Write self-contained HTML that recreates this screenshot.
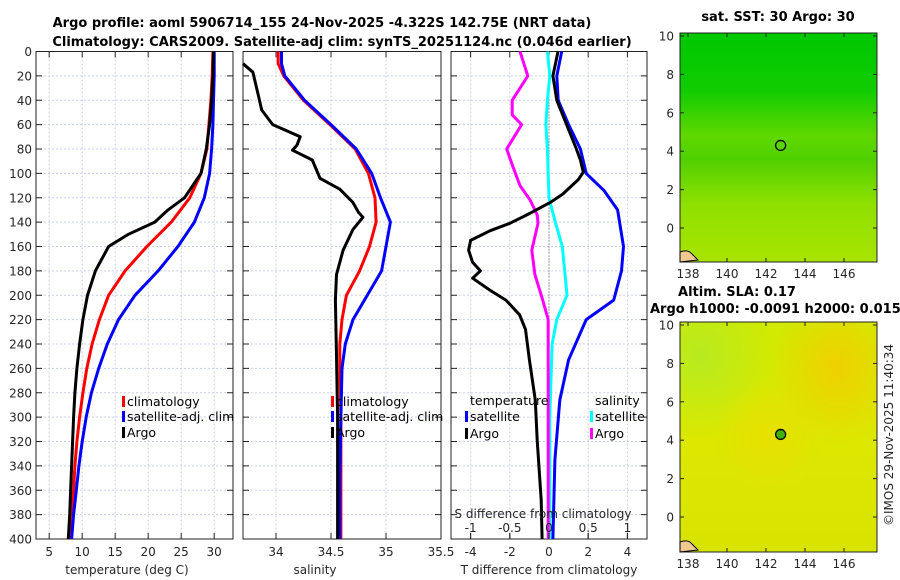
<!DOCTYPE html>
<html><head><meta charset="utf-8"><style>
body{margin:0;background:#fff;}
svg{display:block;font-family:"DejaVu Sans","Liberation Sans",sans-serif;}
.tk{font-size:12px;fill:#262626;}
.tt{font-size:13px;font-weight:bold;fill:#000;}
.lg{font-size:12.5px;fill:#000;}
</style></head><body>
<svg id="fig" width="900" height="580">
<text class="tt" x="322" y="27" text-anchor="middle">Argo profile: aoml 5906714_155 24-Nov-2025 -4.322S 142.75E (NRT data)</text>
<text class="tt" x="342" y="46" text-anchor="middle">Climatology: CARS2009. Satellite-adj clim: synTS_20251124.nc (0.046d earlier)</text>
<g id="maps"></g>
<g id="plots"></g>
<text class="tk" transform="translate(893,435) rotate(-90)" text-anchor="middle">©IMOS 29-Nov-2025 11:40:34</text>
</svg>
<script>
// ---- data ----
const depths = [0,20,40,60,80,100,120,140,160,180,200,220,240,260,280,300,320,340,360,380,400];
const tempClim = [29.8,29.7,29.5,29.2,28.9,28.0,26.3,23.5,19.8,16.5,14.0,12.6,11.5,10.7,10.1,9.6,9.2,8.9,8.7,8.5,8.3];
const tempSat  = [30.0,30.0,29.9,29.8,29.6,29.3,28.5,27.0,24.5,21.5,18.0,15.5,13.8,12.5,11.4,10.6,10.0,9.5,9.1,8.7,8.4];
const argoDepths = [0,20,40,60,80,100,120,130,140,150,160,180,200,220,240,260,280,300,340,380,400];
const tempArgo = [29.9,29.8,29.6,29.3,28.8,28.0,25.5,23.0,21.0,17.0,14.0,12.0,10.8,10.1,9.6,9.2,8.9,8.7,8.4,8.1,7.9];
const salDepths = [0,10,20,40,60,80,100,120,140,160,180,200,220,240,260,300,350,400];
const salClim = [34.02,34.02,34.07,34.25,34.49,34.72,34.84,34.90,34.91,34.85,34.76,34.64,34.60,34.58,34.58,34.59,34.59,34.59];
const salSat  = [34.05,34.05,34.08,34.26,34.50,34.73,34.87,34.95,35.04,35.00,34.96,34.83,34.70,34.63,34.60,34.59,34.58,34.58];
const salArgoDepths = [10,17,40,48,60,70,77,81,89,104,113,124,132,136,146,163,183,204,250,300,400];
const salArgo = [33.70,33.79,33.85,33.87,33.97,34.22,34.19,34.15,34.33,34.40,34.58,34.70,34.75,34.79,34.70,34.61,34.55,34.54,34.55,34.56,34.56];
const diffDepths = [0,20,40,60,80,89,99,105,117,124,133,141,147,155,163,173,180,186,196,204,216,228,253,286,319,368,400];
const dTArgo = [0.46,0.2,0.4,0.9,1.4,1.6,1.75,1.5,0.7,0.05,-1,-2,-3,-4,-4.1,-3.9,-3.5,-3.9,-3,-2.2,-1.5,-1.2,-1,-0.7,-0.6,-0.4,-0.35];
const dTDepths = [0,20,40,60,80,100,114,130,160,180,204,220,253,286,335,400];
const dTSat = [0.65,0.4,0.47,1.0,1.6,1.9,2.8,3.5,3.8,3.7,3.3,1.9,1.0,0.55,0.3,0.2];
const dSDepths = [0,20,40,60,80,100,120,140,160,180,200,220,240,300,400];
const dSSat = [-0.02,0.01,-0.02,-0.04,-0.02,-0.01,0,0.08,0.17,0.2,0.23,0.1,0.04,0.01,0.01];
const dSArgoDepths = [0,20,40,52,60,80,93,110,122,134,141,163,183,204,220,300,400];
const dSArgo = [-0.37,-0.27,-0.47,-0.47,-0.35,-0.54,-0.47,-0.37,-0.24,-0.15,-0.14,-0.22,-0.18,-0.08,-0.01,-0.01,-0.01];
const depthTicks = [0,20,40,60,80,100,120,140,160,180,200,220,240,260,280,300,320,340,360,380,400];
const tTicks = [5,10,15,20,25,30];
const sTicks = [34,34.5,35,35.5];
const dTTicks = [-4,-2,0,2,4];
const dSTicks = [-1,-0.5,0,0.5,1];
const lonTicks = [138,140,142,144,146];
const latTicks = [0,2,4,6,8,10];

const NS='http://www.w3.org/2000/svg';
const plots=document.getElementById('plots');
function el(tag,attrs,parent,text){const e=document.createElementNS(NS,tag);for(const k in attrs)e.setAttribute(k,attrs[k]);if(text!==undefined)e.textContent=text;(parent||plots).appendChild(e);return e;}
const Y0=51.5,Y1=539;
const yD=d=>Y0+d*(Y1-Y0)/400;

function panel(name,x0,x1,xmin,xmax,ticks,fmt,showY){
  const g=el('g',{});
  
  
  const xs=v=>x0+(v-xmin)*(x1-x0)/(xmax-xmin);
  depthTicks.forEach(d=>{const y=yD(d);
    el('line',{x1:x0,x2:x1,y1:y,y2:y,stroke:'#c8d0e8','stroke-dasharray':'2,2','stroke-width':1},g);
    el('line',{x1:x0,x2:x0+6,y1:y,y2:y,stroke:'#222'},g);
    el('line',{x1:x1-6,x2:x1,y1:y,y2:y,stroke:'#222'},g);
    if(showY){const t=el('text',{x:x0-4,y:y+4.5,'text-anchor':'end',class:'tk'},g,String(d));}
  });
  ticks.forEach(v=>{const x=xs(v);
    el('line',{x1:x,x2:x,y1:Y0,y2:Y1,stroke:'#c8d0e8','stroke-dasharray':'2,2'},g);
    el('line',{x1:x,x2:x,y1:Y1,y2:Y1-6,stroke:'#222'},g);
    el('line',{x1:x,x2:x,y1:Y0,y2:Y0+6,stroke:'#222'},g);
    const t=el('text',{x:x,y:556,'text-anchor':'middle',class:'tk'},g,fmt(v));
    
  });
  el('rect',{x:x0,y:Y0,width:x1-x0,height:Y1-Y0,fill:'none',stroke:'#222','stroke-width':1},g);
  return {g,xs};
}
function line(p,xs,ys,color,name,w,xfn){
  const pts=xs.map((v,i)=>(xfn||p.xs)(v).toFixed(1)+','+yD(ys[i]).toFixed(1)).join(' ');
  const l=el('polyline',{points:pts,fill:'none',stroke:color,'stroke-width':w||3,'stroke-linejoin':'round'},p.g);
  
  
}
function legend(g,x,y,color,label,name){
  el('rect',{x:x,y:y-10,width:3,height:11,fill:color},g);
  const t=el('text',{x:x+5,y:y,class:'lg'},g,label);
  
  
}
function xlabel(text,x,name){const t=el('text',{x:x,y:574,'text-anchor':'middle',class:'tk','font-size':'13'},plots,text);}

// Panel 1 temperature
const p1=panel('temperature-panel',36,233,3.0,32.85,tTicks,v=>String(v),true);
line(p1,tempClim,depths,'#ff0000','climatology-temp-line');
line(p1,tempSat,depths,'#0000ff','satellite-temp-line');
line(p1,tempArgo,argoDepths,'#000000','argo-temp-line');
legend(p1.g,122,406,'#ff0000','climatology','legend-climatology');
legend(p1.g,122,421,'#0000ff','satellite-adj. clim','legend-satellite');
legend(p1.g,122,437,'#000000','Argo','legend-argo');
xlabel('temperature (deg C)',127,'x-axis-title-temperature');

// Panel 2 salinity
const p2=panel('salinity-panel',243,441,33.7,35.5,sTicks,v=>String(v),false);
line(p2,salClim,salDepths,'#ff0000','climatology-sal-line');
line(p2,salSat,salDepths,'#0000ff','satellite-sal-line');
line(p2,salArgo,salArgoDepths,'#000000','argo-sal-line');
legend(p2.g,331,406,'#ff0000','climatology','legend-sal-climatology');
legend(p2.g,331,421,'#0000ff','satellite-adj. clim','legend-sal-satellite');
legend(p2.g,331,437,'#000000','Argo','legend-sal-argo');
xlabel('salinity',315,'x-axis-title-salinity');

// Panel 3 differences
const p3=panel('difference-panel',451,647,-5,5,dTTicks,v=>String(v),false);
const sx=v=>549+v*78.4;
el('line',{x1:549,x2:549,y1:Y0,y2:Y1,stroke:'#555','stroke-dasharray':'1,2'},p3.g);
line(p3,dSSat,dSDepths,'#00ffff','sat-salinity-diff-line',3,sx);
line(p3,dSArgo,dSArgoDepths,'#ff00ff','argo-salinity-diff-line',3,sx);
line(p3,dTSat,dTDepths,'#0000ff','sat-temp-diff-line');
line(p3,dTArgo,diffDepths,'#000000','argo-temp-diff-line');
dSTicks.forEach(v=>{const t=el('text',{x:sx(v),y:532,'text-anchor':'middle',class:'tk'},p3.g,String(v));
  el('line',{x1:sx(v),x2:sx(v),y1:Y1,y2:Y1-6,stroke:'#222'},p3.g);});
{const t=el('text',{x:543,y:518,'text-anchor':'middle',class:'tk','font-size':'13'},p3.g,'S difference from climatology');}
{const t=el('text',{x:470,y:405,class:'lg'},p3.g,'temperature');}
{const t=el('text',{x:595,y:405,class:'lg'},p3.g,'salinity');}
legend(p3.g,465,421,'#0000ff','satellite','legend-temp-satellite');
legend(p3.g,465,438,'#000000','Argo','legend-temp-argo');
legend(p3.g,590,421,'#00ffff','satellite','legend-sal-satellite-diff');
legend(p3.g,590,438,'#ff00ff','Argo','legend-sal-argo-diff');
xlabel('T difference from climatology',549,'x-axis-title-tdiff');

// Maps
const maps=document.getElementById('maps');
function map(name,y0,y1,bg,filled){
  const g=el('g',{},maps);
  
  
  const x0=680,x1=877;
  const lx=v=>688+(v-138)*19.5;
  const ly=v=>(y0+3)+(10-v)*19.2;
  const fo=el('foreignObject',{x:x0,y:y0,width:x1-x0,height:y1-y0},g);
  const d=document.createElement('div');
  d.style.cssText='width:100%;height:100%;background:'+bg;
  fo.appendChild(d);
  latTicks.forEach(v=>{const y=ly(v);el('line',{x1:x0,x2:x0+4,y1:y,y2:y,stroke:'#222'},g);el('line',{x1:x1-4,x2:x1,y1:y,y2:y,stroke:'#222'},g);
    const t=el('text',{x:x0-6,y:y+4.5,'text-anchor':'end',class:'tk'},g,String(v));});
  lonTicks.forEach(v=>{const x=lx(v);el('line',{x1:x,x2:x,y1:y1,y2:y1-4,stroke:'#222'},g);el('line',{x1:x,x2:x,y1:y0,y2:y0+4,stroke:'#222'},g);
    const t=el('text',{x:x,y:y1+16,'text-anchor':'middle',class:'tk'},g,String(v));});
  el('rect',{x:x0,y:y0,width:x1-x0,height:y1-y0,fill:'none',stroke:'#222'},g);
  const c=el('circle',{cx:lx(142.75),cy:ly(4.3),r:5,fill:filled?'#40b000':'none',stroke:'#000','stroke-width':1.3},g);
  
  el('path',{d:`M${x0} ${y1-10} q8 -3 12 2 l6 6 L${x0} ${y1} Z`,fill:'#f0c890',stroke:'#000','stroke-width':1},g);
  return g;
}
map('sst-map',33,262,'linear-gradient(180deg,#00c800 0%,#10cc00 25%,#60d800 45%,#50d000 55%,#90e000 75%,#a8e400 100%)',false);
map('sla-map',322,552,'radial-gradient(ellipse at 80% 20%,#f0d000 0%,transparent 30%),radial-gradient(ellipse at 45% 50%,#e8e000 0%,transparent 35%),radial-gradient(ellipse at 10% 15%,#b8ea20 0%,transparent 30%),linear-gradient(180deg,#d0ea00 0%,#dce800 50%,#d8e400 100%)',true);
{const t=el('text',{x:778,y:21,'text-anchor':'middle',class:'tt'},maps,'sat. SST: 30 Argo: 30');}
{const t=el('text',{x:737,y:296,'text-anchor':'middle',class:'tt'},maps,'Altim. SLA: 0.17');}
{const t=el('text',{x:650,y:313,class:'tt','font-size':'13.5'},maps,'Argo h1000: -0.0091 h2000: 0.015');}
</script>
</body></html>
